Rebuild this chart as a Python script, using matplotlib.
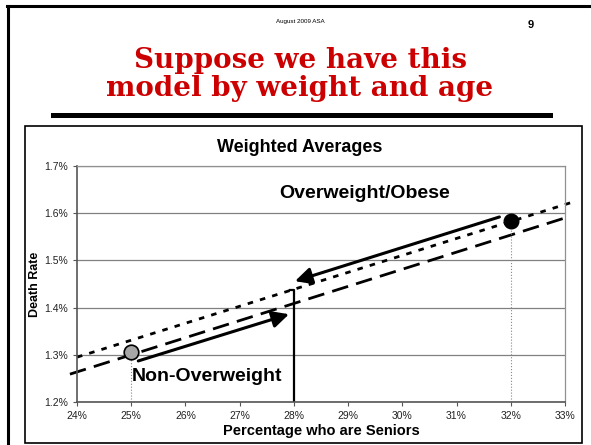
import matplotlib
matplotlib.use("Agg")
import matplotlib.pyplot as plt
from matplotlib.lines import Line2D
from matplotlib.patches import Rectangle

plt.rcParams['font.family'] = ['Liberation Sans', 'DejaVu Sans']

# data (percent units)
x_ticks = [24, 25, 26, 27, 28, 29, 30, 31, 32, 33]
y_ticks = [1.2, 1.3, 1.4, 1.5, 1.6, 1.7]

non_over_pt = (25.0, 1.305)
over_pt = (32.0, 1.584)

dashed_x = [23.87, 33.0]
dashed_y = [1.259, 1.590]
dotted_x = [24.0, 33.1]
dotted_y = [1.295, 1.622]

avg_x = 28.0
avg_y = 1.437

arrow_non = ((25.13, 1.287), (27.91, 1.386))
arrow_over = ((31.79, 1.592), (28.02, 1.456))

W, H = 591, 445
fig = plt.figure(figsize=(W / 100, H / 100), dpi=100)

# overlay in pixel coords for the slide decorations
deco = fig.add_axes([0, 0, 1, 1])
deco.set_xlim(0, W)
deco.set_ylim(H, 0)
deco.axis('off')
deco.add_line(Line2D([7, W], [6, 6], color='black', lw=2.2))
deco.add_line(Line2D([8, 8], [6, H], color='black', lw=2.2))
deco.add_patch(Rectangle((25, 126), 557, 317, fill=False, ec='black', lw=1.2))
deco.add_patch(Rectangle((51, 113), 502, 5, color='black', lw=0))
deco.text(300, 21, 'August 2009 ASA', fontsize=4.5, ha='center', va='center')
deco.text(531, 25, '9', fontsize=8, fontweight='bold', ha='center', va='center')
deco.text(300, 60, 'Suppose we have this', fontsize=20, fontweight='heavy',
          family='DejaVu Serif', color='#cc0000', ha='center', va='center')
deco.text(300, 89, 'model by weight and age', fontsize=20, fontweight='heavy',
          family='DejaVu Serif', color='#cc0000', ha='center', va='center')
deco.text(300, 147, 'Weighted Averages', fontsize=13, fontweight='bold',
          ha='center', va='center')

ax = fig.add_axes([77 / W, 1 - 402 / H, (565 - 77) / W, (402 - 166) / H])
ax.set_xlim(24, 33)
ax.set_ylim(1.2, 1.7)
ax.set_xticks(x_ticks)
ax.set_yticks(y_ticks)
ax.set_xticklabels([f'{v}%' for v in x_ticks])
ax.set_yticklabels([f'{v:.1f}%' for v in y_ticks])
ax.tick_params(labelsize=7.5, length=3, color='#555555', labelcolor='#222222')
ax.grid(axis='y', color='#808080', lw=0.9)
ax.set_axisbelow(True)
for s in ['top', 'right']:
    ax.spines[s].set_color('#909090')
    ax.spines[s].set_linewidth(0.9)
for s in ['left', 'bottom']:
    ax.spines[s].set_color('#555555')
    ax.spines[s].set_linewidth(1.2)

ax.set_xlabel('Percentage who are Seniors', fontsize=10.5, fontweight='bold', labelpad=2)
ax.set_ylabel('Death Rate', fontsize=9, fontweight='bold', labelpad=2)

ax.plot(dashed_x, dashed_y, color='black', lw=2, dashes=(6, 3), clip_on=False)
ax.plot(dotted_x, dotted_y, color='black', lw=2, dashes=(2, 2.6), clip_on=False)

ax.plot([non_over_pt[0]] * 2, [1.2, non_over_pt[1]], color='#888888', lw=0.8, ls=':')
ax.plot([over_pt[0]] * 2, [1.2, over_pt[1]], color='#888888', lw=0.8, ls=':')

ax.plot([avg_x - 0.08, avg_x, avg_x], [avg_y, avg_y, 1.2], color='black', lw=1.6)

for start, end in [arrow_non, arrow_over]:
    ax.annotate('', xy=end, xytext=start,
                arrowprops=dict(arrowstyle='-|>,head_length=1.0,head_width=0.5',
                                lw=2.2, color='black', shrinkA=0, shrinkB=0))

ax.plot(*non_over_pt, 'o', ms=10.5, mfc='#a6a6a6', mec='black', mew=1.2, zorder=5)
ax.plot(*over_pt, 'o', ms=10.5, mfc='black', mec='black', zorder=5)

ax.text(29.3, 1.642, 'Overweight/Obese', fontsize=14, fontweight='bold', ha='center', va='center')
ax.text(26.4, 1.253, 'Non-Overweight', fontsize=14, fontweight='bold', ha='center', va='center')

fig.savefig('out.png', dpi=100)
